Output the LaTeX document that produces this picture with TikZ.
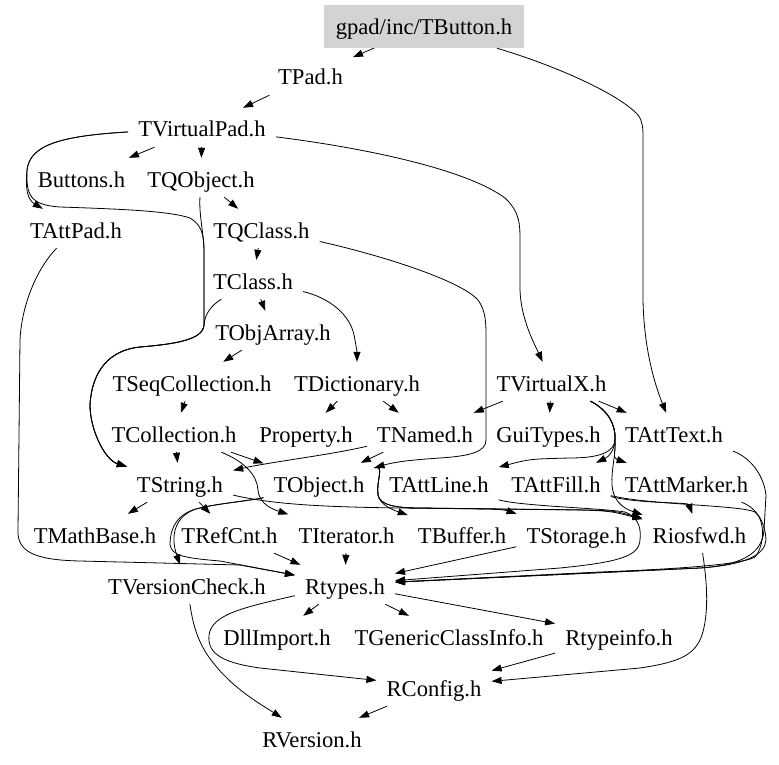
\documentclass[tikz,border=0pt]{standalone}
\usepackage{fontspec}
\setmainfont{Liberation Serif}
\usetikzlibrary{arrows.meta}
\definecolor{rootgray}{RGB}{211,211,211}
\newcommand{\dotfont}{\fontsize{22.6}{27}\selectfont}
\tikzset{
	file/.style={inner xsep=10pt, inner ysep=0pt, text height=29pt, text depth=10pt, font=\dotfont, anchor=base},
	rootfile/.style={fill=rootgray, inner sep=0pt, minimum width=200pt, minimum height=43pt, text height=24pt, text depth=8pt, font=\dotfont},
	dep/.style={line width=0.8pt, -{Triangle[length=10pt,width=7pt]}}
}

\begin{document}
\begin{tikzpicture}[x=1pt, y=-1pt]
		%%%%% START %%%%%
		\useasboundingbox (0, 0) rectangle (779, 765);
		
		\node[rootfile] (btn) at (424, 26.5) {gpad/inc/TButton.h};
		\node[file] (tpad) at (310.5, 85) {TPad.h};
		\node[file] (tvp) at (202, 137) {TVirtualPad.h};
		\node[file] (buttons) at (81.5, 187) {Buttons.h};
		\node[file] (tqo) at (201, 187) {TQObject.h};
		\node[file] (tattpad) at (76, 238) {TAttPad.h};
		\node[file] (tqc) at (261.5, 238) {TQClass.h};
		\node[file] (tcls) at (253, 289) {TClass.h};
		\node[file] (toa) at (273, 340) {TObjArray.h};
		\node[file] (tseq) at (192, 391) {TSeqCollection.h};
		\node[file] (tdict) at (357, 391) {TDictionary.h};
		\node[file] (tvx) at (551.5, 391) {TVirtualX.h};
		\node[file] (tcoll) at (174, 442) {TCollection.h};
		\node[file] (prop) at (306, 442) {Property.h};
		\node[file] (tnamed) at (425, 442) {TNamed.h};
		\node[file] (guit) at (548.5, 442) {GuiTypes.h};
		\node[file] (tatttext) at (674, 442) {TAttText.h};
		\node[file] (tstr) at (180, 492) {TString.h};
		\node[file] (tobj) at (319, 492) {TObject.h};
		\node[file] (tattline) at (439, 492) {TAttLine.h};
		\node[file] (tattfill) at (556, 492) {TAttFill.h};
		\node[file] (tattmarker) at (686.5, 492) {TAttMarker.h};
		\node[file] (tmath) at (95, 543) {TMathBase.h};
		\node[file] (trefcnt) at (229.5, 543) {TRefCnt.h};
		\node[file] (titer) at (346.5, 543) {TIterator.h};
		\node[file] (tbuf) at (462, 543) {TBuffer.h};
		\node[file] (tstor) at (576.5, 543) {TStorage.h};
		\node[file] (rios) at (699.5, 543) {Riosfwd.h};
		\node[file] (tvc) at (187, 594) {TVersionCheck.h};
		\node[file] (rtypes) at (345, 594) {Rtypes.h};
		\node[file] (dll) at (277, 645) {DllImport.h};
		\node[file] (tgci) at (449, 645) {TGenericClassInfo.h};
		\node[file] (rtinfo) at (619, 645) {Rtypeinfo.h};
		\node[file] (rconfig) at (434, 696) {RConfig.h};
		\node[file] (rversion) at (312, 747) {RVersion.h};
		
		% top part
		\draw[dep] (btn) -- (tpad);
		\draw[dep] (btn) .. controls (560, 67) and (620, 95) .. (638, 115) .. controls (643, 122) and (643, 128) .. (643, 140) -- (643, 300) .. controls (644, 350) and (655, 385) .. (tatttext);
		\draw[dep] (tpad) -- (tvp);
		\draw[dep] (tvp) -- (buttons);
		\draw[dep] (tvp) -- (tqo);
		\draw[dep] (tvp) .. controls (60, 136) and (30, 145) .. (27, 170) .. controls (25, 190) and (28, 200) .. (tattpad);
		\draw[dep] (tvp) .. controls (380, 150) and (470, 172) .. (505, 198) .. controls (520, 212) and (520, 225) .. (520, 240) -- (520, 290) .. controls (521, 320) and (535, 345) .. (tvx);
		\draw[dep] (tvp) .. controls (60, 136) and (30, 145) .. (27, 170) .. controls (26, 195) and (30, 205) .. (60, 207) .. controls (120, 209) and (170, 211) .. (190, 218) .. controls (200, 224) and (204, 232) .. (204, 250) -- (204, 325) .. controls (203, 340) and (175, 344) .. (140, 347) .. controls (110, 350) and (92, 370) .. (90, 405) .. controls (90, 430) and (105, 460) .. (tstr);
		\draw[dep] (tqo) .. controls (199, 215) and (203, 228) .. (204, 250) -- (204, 325) .. controls (203, 340) and (175, 344) .. (140, 347) .. controls (110, 350) and (92, 370) .. (90, 405) .. controls (90, 430) and (105, 460) .. (tstr);
		\draw[dep] (tqo) -- (tqc);
		\draw[dep] (tqc) -- (tcls);
		\draw[dep] (tqc) .. controls (380, 255) and (460, 280) .. (478, 300) .. controls (485, 310) and (486, 320) .. (486, 335) -- (486, 440) .. controls (486, 452) and (470, 456) .. (440, 458) .. controls (410, 460) and (395, 462) .. (tobj);
		\draw[dep] (tcls) -- (toa);
		\draw[dep] (tcls) .. controls (330, 298) and (350, 315) .. (354, 335) .. controls (356, 345) and (357, 352) .. (tdict);
		\draw[dep] (tcls) .. controls (212, 305) and (205, 313) .. (204, 325) .. controls (203, 340) and (175, 344) .. (140, 347) .. controls (110, 350) and (92, 370) .. (90, 405) .. controls (90, 430) and (105, 460) .. (tstr);
		\draw[dep] (toa) -- (tseq);
		\draw[dep] (tseq) -- (tcoll);
		\draw[dep] (tdict) -- (prop);
		\draw[dep] (tdict) -- (tnamed);
		
		% TVirtualX
		\draw[dep] (tvx) -- (tnamed);
		\draw[dep] (tvx) -- (guit);
		\draw[dep] (tvx) -- (tatttext);
		\draw[dep] (tvx) .. controls (608, 410) and (616, 425) .. (615, 440) .. controls (614, 452) and (600, 458) .. (570, 458) .. controls (530, 459) .. (tattline);
		\draw[dep] (tvx) .. controls (608, 410) and (616, 425) .. (615, 440) .. controls (614, 450) and (610, 456) .. (tattfill);
		\draw[dep] (tvx) .. controls (608, 410) and (616, 425) .. (615, 440) .. controls (616, 450) and (612, 458) .. (tattmarker);
		\draw[dep] (tvx) .. controls (608, 410) and (616, 425) .. (615, 440) .. controls (616, 455) and (611, 470) .. (612, 485) .. controls (613, 500) and (622, 508) .. (rios);
		
		% middle part
		\draw[dep] (tcoll) -- (tstr);
		\draw[dep] (tcoll) -- (tobj);
		\draw[dep] (tcoll) .. controls (245, 462) and (257, 475) .. (258, 490) .. controls (259, 505) and (275, 510) .. (titer);
		\draw[dep] (tnamed) -- (tobj);
		\draw[dep] (tnamed) .. controls (330, 455) and (270, 462) .. (tstr);
		\draw[dep] (tstr) -- (tmath);
		\draw[dep] (tstr) -- (trefcnt);
		\draw[dep] (tstr) .. controls (275, 505) and (330, 507) .. (400, 508) -- (580, 510) .. controls (610, 511) .. (rios);
		\draw[dep] (tobj) .. controls (255, 500) and (215, 504) .. (200, 508) .. controls (180, 512) and (168, 530) .. (tvc);
		\draw[dep] (tobj) .. controls (255, 500) and (215, 504) .. (200, 508) .. controls (180, 512) and (170, 525) .. (170, 545) .. controls (172, 556) and (185, 558) .. (220, 561) -- (rtypes);
		\draw[dep] (tobj) .. controls (385, 465) and (376, 480) .. (378, 495) .. controls (380, 504) and (390, 509) .. (tbuf);
		\draw[dep] (tobj) .. controls (385, 465) and (376, 480) .. (378, 495) .. controls (380, 505) and (395, 508) .. (420, 508) -- (490, 509) .. controls (505, 510) .. (tstor);
		\draw[dep] (tobj) .. controls (385, 465) and (376, 480) .. (378, 495) .. controls (380, 505) and (395, 508) .. (420, 508) -- (590, 510) .. controls (615, 511) .. (rios);
		\draw[dep] (tattline) .. controls (520, 506) and (600, 508) .. (625, 512) .. controls (640, 518) and (641, 530) .. (640, 540) .. controls (639, 556) and (620, 562) .. (560, 568) -- (rtypes);
		\draw[dep] (tattfill) .. controls (640, 504) and (688, 502) .. (rios);
		\draw[dep] (tattfill) .. controls (650, 505) and (740, 505) .. (755, 512) .. controls (765, 520) and (765, 545) .. (755, 557) .. controls (740, 566) and (650, 570) .. (600, 572) -- (rtypes);
		\draw[dep] (tattmarker) .. controls (755, 507) and (765, 520) .. (766, 540) .. controls (765, 555) and (745, 565) .. (700, 568) -- (rtypes);
		\draw[dep] (tatttext) .. controls (745, 455) and (763, 470) .. (766, 495) -- (764, 530) .. controls (762, 555) and (740, 565) .. (700, 568) -- (rtypes);
		\draw[dep] (tattpad) .. controls (40, 265) and (22, 300) .. (20, 340) -- (18, 530) .. controls (17, 552) and (35, 560) .. (80, 561) -- (240, 565) -- (rtypes);
		
		% bottom part
		\draw[dep] (trefcnt) -- (rtypes);
		\draw[dep] (titer) -- (rtypes);
		\draw[dep] (tstor) -- (rtypes);
		\draw[dep] (rtypes) -- (dll);
		\draw[dep] (rtypes) -- (tgci);
		\draw[dep] (rtypes) -- (rtinfo);
		\draw[dep] (rtypes) .. controls (240, 608) and (212, 615) .. (209, 635) .. controls (207, 655) and (225, 663) .. (260, 668) -- (rconfig);
		\draw[dep] (rtinfo) -- (rconfig);
		\draw[dep] (rios) .. controls (706, 575) and (710, 610) .. (702, 635) .. controls (695, 655) and (680, 662) .. (640, 668) -- (rconfig);
		\draw[dep] (tvc) .. controls (193, 625) and (198, 645) .. (215, 665) .. controls (235, 690) and (262, 705) .. (rversion);
		\draw[dep] (rconfig) -- (rversion);
		
		%%%%% END %%%%%
\end{tikzpicture}
\end{document}
